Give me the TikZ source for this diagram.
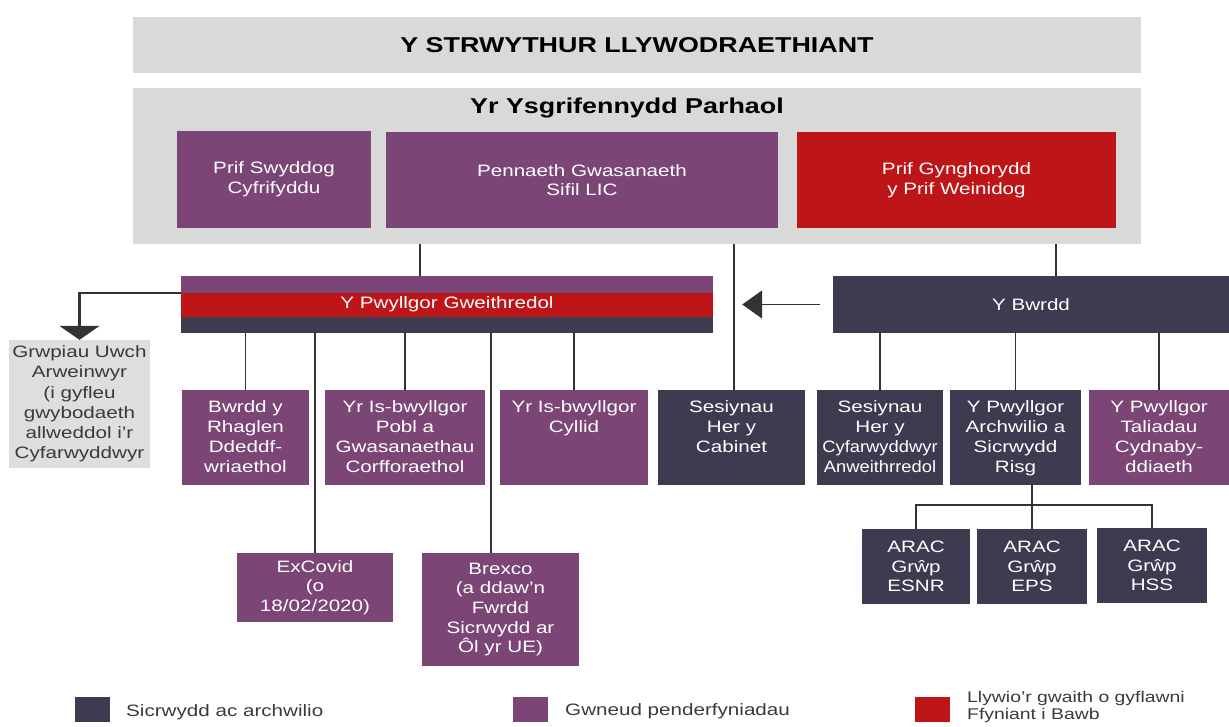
\documentclass[tikz,border=0pt]{standalone}
\usepackage{fontspec}
\setmainfont{Liberation Sans}[FakeStretch=1.25]
\usetikzlibrary{arrows.meta}
\definecolor{wgpurple}{RGB}{123,69,117}
\definecolor{wgred}{RGB}{190,22,24}
\definecolor{wgdark}{RGB}{61,59,80}
\definecolor{wggrey}{RGB}{217,217,217}
\definecolor{wglight}{RGB}{222,222,222}
\definecolor{wgline}{RGB}{51,51,51}
\definecolor{wgtext}{RGB}{58,58,58}
\newcommand{\boxfont}{\fontsize{16.5}{19.7}\selectfont}
\newcommand{\headfont}{\fontsize{21.5}{25}\selectfont\bfseries}
\newcommand{\squeeze}[1]{\scalebox{0.89}[1]{#1}}
\begin{document}
\begin{tikzpicture}[x=1pt,y=1pt]
\tikzstyle{every node}+=[inner sep=0pt]
\tikzstyle{box}=[rectangle, align=center, text=white, font=\boxfont]
\tikzstyle{purplebox}=[box, fill=wgpurple]
\tikzstyle{darkbox}=[box, fill=wgdark]
\tikzstyle{redbox}=[box, fill=wgred]
\tikzstyle{greybox}=[rectangle, fill=wggrey]
\tikzstyle{rowbox}=[minimum height=95pt]
\tikzstyle{toptext}=[anchor=north, yshift=-11pt, align=center, text=white, font=\boxfont]
\tikzstyle{link}=[draw=wgline, line width=1.8pt]
\tikzstyle{keybox}=[minimum width=35pt, minimum height=25pt]
\tikzstyle{keytext}=[anchor=west, align=left, text=wgtext, font=\boxfont]
\useasboundingbox (0,0) rectangle (1229,-727);
\node [greybox, minimum width=1008pt, minimum height=56pt, font=\headfont] (titlebar) at (637,-45) {Y STRWYTHUR LLYWODRAETHIANT};
\node [greybox, minimum width=1008pt, minimum height=156pt] (ysg) at (637,-166) {};
\node [font=\headfont] (ysghead) at (627,-108) {Yr Ysgrifennydd Parhaol};
\node [purplebox, minimum width=194pt, minimum height=97pt] (cyfrif) at (274,-179.5) {Prif Swyddog\\Cyfrifyddu};
\node [purplebox, minimum width=392pt, minimum height=96pt] (pennaeth) at (582,-180) {Pennaeth Gwasanaeth\\Sifil LIC};
\node [redbox, minimum width=319pt, minimum height=96pt] (cynghorydd) at (956.5,-180) {Prif Gynghorydd\\y Prif Weinidog};
\node [redbox, minimum width=532pt, minimum height=57pt] (gweith) at (447,-304.5) {Y Pwyllgor Gweithredol};
\fill [wgpurple] (gweith.north west) rectangle ([yshift=-17pt]gweith.north east);
\fill [wgdark] (gweith.south west) rectangle ([yshift=16pt]gweith.south east);
\node [darkbox, minimum width=396pt, minimum height=57pt] (bwrdd) at (1031,-304.5) {Y Bwrdd};
\node [rectangle, fill=wglight, minimum width=141pt, minimum height=128pt, align=center, text=wgtext, font=\fontsize{16.5}{20.2}\selectfont] (grwpiau) at (79.5,-404) {Grwpiau Uwch\\Arweinwyr\\(i gyfleu\\gwybodaeth\\allweddol i’r\\Cyfarwyddwyr};
\node [purplebox, rowbox, minimum width=127pt, label={[toptext]north:Bwrdd y\\Rhaglen\\Ddeddf-\\wriaethol}] (rhaglen) at (245.5,-437.5) {};
\node [purplebox, rowbox, minimum width=160pt, label={[toptext]north:Yr Is-bwyllgor\\Pobl a\\Gwasanaethau\\Corfforaethol}] (pobl) at (405,-437.5) {};
\node [purplebox, rowbox, minimum width=148pt, label={[toptext]north:Yr Is-bwyllgor\\Cyllid}] (cyllid) at (574,-437.5) {};
\node [darkbox, rowbox, minimum width=147pt, label={[toptext]north:Sesiynau\\Her y\\Cabinet}] (cabinet) at (731.5,-437.5) {};
\node [darkbox, rowbox, minimum width=126pt, label={[toptext]north:Sesiynau\\Her y\\\squeeze{Cyfarwyddwyr}\\\squeeze{Anweithrredol}}] (anweith) at (880,-437.5) {};
\node [darkbox, rowbox, minimum width=131pt, label={[toptext]north:Y Pwyllgor\\Archwilio a\\Sicrwydd\\Risg}] (archwilio) at (1015.5,-437.5) {};
\node [purplebox, rowbox, minimum width=140pt, label={[toptext]north:Y Pwyllgor\\Taliadau\\Cydnaby-\\ddiaeth}] (taliadau) at (1159,-437.5) {};
\node [purplebox, minimum width=156pt, minimum height=69pt] (excovid) at (315,-587.5) {ExCovid\\(o\\18/02/2020)};
\node [purplebox, minimum width=157pt, minimum height=113pt] (brexco) at (500.5,-609.5) {Brexco\\(a ddaw'n\\Fwrdd\\Sicrwydd ar\\Ôl yr UE)};
\node [darkbox, minimum width=108pt, minimum height=75pt] (arac1) at (916,-566.5) {ARAC\\Grŵp\\ESNR};
\node [darkbox, minimum width=110pt, minimum height=75pt] (arac2) at (1032,-566.5) {ARAC\\Grŵp\\EPS};
\node [darkbox, minimum width=110pt, minimum height=75pt] (arac3) at (1152,-565.5) {ARAC\\Grŵp\\HSS};
\draw [link] (ysg.south -| 420,0) -- (gweith.north -| 420,0);
\draw [link] (ysg.south -| 734,0) -- (cabinet.north -| 734,0);
\draw [link] (ysg.south -| 1056,0) -- (bwrdd.north -| 1056,0);
\draw [link, line width=2.5pt, -{Triangle[width=40pt,length=14pt]}] ([yshift=-17pt]gweith.north west) -| (grwpiau.north);
\draw [link, -{Triangle[width=28pt,length=20pt]}, shorten <=13pt, shorten >=29pt] (bwrdd.west) -- (gweith.east);
\draw [link] (gweith.south -| rhaglen.north) -- (rhaglen.north);
\draw [link] (gweith.south -| pobl.north) -- (pobl.north);
\draw [link] (gweith.south -| cyllid.north) -- (cyllid.north);
\draw [link] (gweith.south -| excovid.north) -- (excovid.north);
\draw [link] (gweith.south -| 491,0) -- (brexco.north -| 491,0);
\draw [link] (bwrdd.south -| anweith.north) -- (anweith.north);
\draw [link] (bwrdd.south -| archwilio.north) -- (archwilio.north);
\draw [link] (bwrdd.south -| taliadau.north) -- (taliadau.north);
\draw [link] (archwilio.south -| arac2.north) -- (arac2.north);
\draw [link] (arac1.north) -- ++(0,24) -| (arac3.north);
\node [keybox, fill=wgdark] (keyassure) at (92.5,-709.5) {};
\node [keytext] (keyassuretext) at (126,-712) {Sicrwydd ac archwilio};
\node [keybox, fill=wgpurple] (keydecide) at (530.5,-709.5) {};
\node [keytext] (keydecidetext) at (565,-711) {Gwneud penderfyniadau};
\node [keybox, fill=wgred] (keysteer) at (932.5,-709.5) {};
\node [keytext, anchor=north west, font=\fontsize{15.5}{17.5}\selectfont] (keysteertext) at (967,-691) {Llywio’r gwaith o gyflawni\\Ffyniant i Bawb};
\end{tikzpicture}
\end{document}
